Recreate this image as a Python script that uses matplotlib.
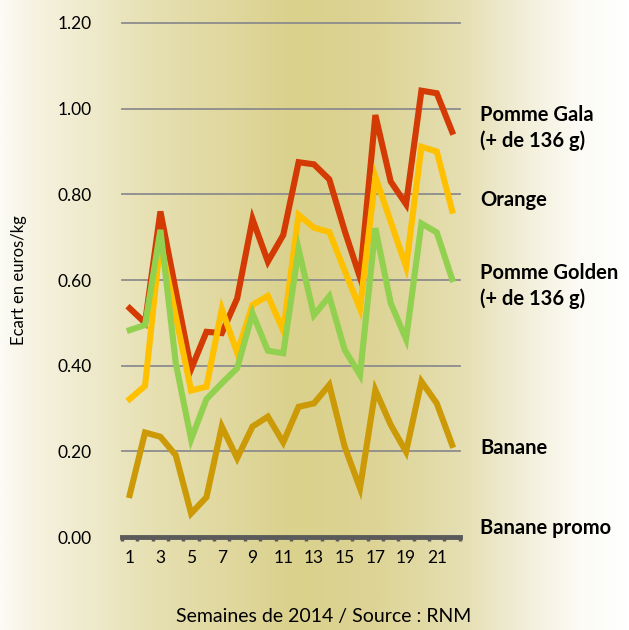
import numpy as np
import matplotlib
matplotlib.use("Agg")
import matplotlib.pyplot as plt
from matplotlib.colors import LinearSegmentedColormap

plt.rcParams['font.family'] = ['Lato', 'DejaVu Sans']

# Données (écart en euros/kg, semaines 1 à 22 de 2014)
semaines = np.arange(1, 23)
gala = [0.534, 0.500, 0.760, 0.575, 0.392, 0.479, 0.476, 0.557, 0.742, 0.643, 0.705,
        0.875, 0.870, 0.835, 0.715, 0.606, 0.985, 0.830, 0.777, 1.042, 1.036, 0.946]
orange = [0.322, 0.353, 0.690, 0.515, 0.342, 0.351, 0.532, 0.430, 0.542, 0.563, 0.482,
          0.752, 0.722, 0.712, 0.622, 0.533, 0.841, 0.736, 0.631, 0.911, 0.900, 0.762]
golden = [0.483, 0.495, 0.717, 0.406, 0.228, 0.322, 0.359, 0.394, 0.522, 0.435, 0.429,
          0.672, 0.518, 0.562, 0.437, 0.378, 0.721, 0.546, 0.462, 0.732, 0.711, 0.602]
banane = [0.098, 0.244, 0.234, 0.191, 0.055, 0.093, 0.258, 0.184, 0.258, 0.281, 0.221,
          0.304, 0.312, 0.355, 0.211, 0.114, 0.343, 0.262, 0.199, 0.363, 0.312, 0.215]

series = [
    (gala, '#d43a04'),
    (orange, '#ffc000'),
    (golden, '#92d050'),
    (banane, '#cc9a06'),
]
libelles = [
    ('Pomme Gala\n(+ de 136 g)', 0.955),
    ('Orange', 0.787),
    ('Pomme Golden\n(+ de 136 g)', 0.586),
    ('Banane', 0.208),
    ('Banane promo', 0.021),
]

fig = plt.figure(figsize=(6.29, 6.30), dpi=100)

# Fond dégradé horizontal
bg = fig.add_axes([0, 0, 1, 1])
stops = [(0.0, '#fcfbf4'), (0.05, '#f6f3e2'), (0.25, '#e6dfb0'), (0.47, '#dad18c'),
         (0.60, '#ddd496'), (0.74, '#e6dfb3'), (0.82, '#f0ecd4'), (0.92, '#fcfbf4'),
         (1.0, '#ffffff')]
cmap = LinearSegmentedColormap.from_list('fond', stops)
bg.imshow(np.linspace(0, 1, 512).reshape(1, -1), aspect='auto', cmap=cmap,
          extent=[0, 1, 0, 1])
bg.axis('off')

ax = fig.add_axes([0.194, 0.1476, 0.537, 0.8159])
ax.patch.set_alpha(0)

for vals, col in series:
    ax.plot(semaines, vals, color=col, lw=4.4, solid_joinstyle='miter', zorder=3)

ax.set_xlim(0.5, 22.5)
ax.set_ylim(0, 1.2)
ax.set_yticks(np.arange(0, 1.21, 0.2))
ax.set_yticklabels([f'{v:.2f}' for v in np.arange(0, 1.21, 0.2)])
ax.set_xticks(np.arange(1, 23, 2))
ax.set_xticks(np.arange(0.5, 23, 1), minor=True)
ax.tick_params(axis='x', which='major', length=0, labelsize=12.5, pad=9)
ax.tick_params(axis='x', which='minor', length=3, width=2.5, color='#5a5a5a',
               direction='out')
ax.tick_params(axis='y', length=0, labelsize=12.5, pad=22)

ax.yaxis.grid(True, color='#8c8c8c', lw=1.3)
for gl in ax.yaxis.get_gridlines():
    gl.set_clip_on(False)
ax.set_axisbelow(True)
for s in ['top', 'right', 'left']:
    ax.spines[s].set_visible(False)
ax.spines['bottom'].set_color('#5a5a5a')
ax.spines['bottom'].set_linewidth(3.5)

ax.set_ylabel('Ecart en euros/kg', fontsize=12, labelpad=22)
fig.text(0.515, 0.021, 'Semaines de 2014 / Source : RNM', fontsize=14,
         ha='center', va='center')

for txt, y in libelles:
    ax.text(1.06, y, txt, transform=ax.get_yaxis_transform(), fontsize=14.5,
            fontweight='bold', va='center', ha='left', linespacing=1.35)

fig.savefig('out.png', dpi=100)
